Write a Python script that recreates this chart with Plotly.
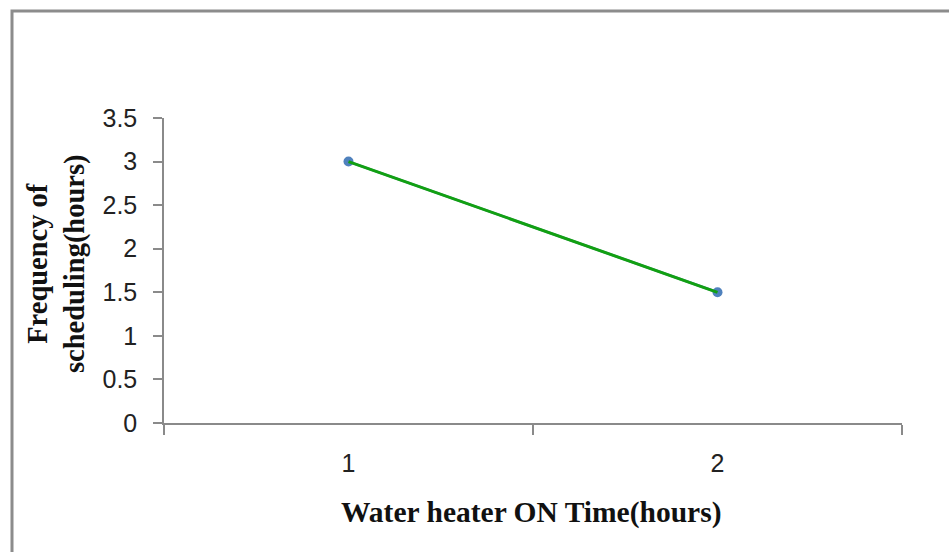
import plotly.graph_objects as go

categories = ["1", "2"]
frequency = [3, 1.5]
trend = [3, 1.5]
y_ticks = [0, 0.5, 1, 1.5, 2, 2.5, 3, 3.5]
y_tick_labels = ["0", "0.5", "1", "1.5", "2", "2.5", "3", "3.5"]

W, H = 949, 552
L, R, T, B = 164, 47, 118, 129
pw, ph = W - L - R, H - T - B

def px(x):
    return (x - L) / pw

def py(y):
    return (H - B - y) / ph

fig = go.Figure()
fig.add_trace(go.Scatter(
    x=categories, y=frequency, mode="lines+markers",
    line=dict(color="#4F81BD", width=2.5),
    marker=dict(color="#4F81BD", size=10),
    showlegend=False,
))
fig.add_trace(go.Scatter(
    x=categories, y=trend, mode="lines",
    line=dict(color="#12A012", width=3),
    showlegend=False,
))

axis_color = "#8A8A8A"
tick_font = dict(family="Liberation Sans Narrow, Liberation Sans", size=25, color="#222")
fig.update_layout(
    width=W, height=H,
    margin=dict(l=L, r=R, t=T, b=B),
    paper_bgcolor="white", plot_bgcolor="white",
    xaxis=dict(
        type="category", range=[-0.5, 1.5],
        showgrid=False, zeroline=False,
        showline=True, linecolor=axis_color, linewidth=1.5,
        ticks="outside", ticklen=10, tickcolor=axis_color, tickwidth=1.5,
        tickson="boundaries",
        tickfont=tick_font,
        ticklabelstandoff=17,
    ),
    yaxis=dict(
        range=[0, 3.5], tickvals=y_ticks, ticktext=y_tick_labels,
        showgrid=False, zeroline=False,
        showline=True, linecolor=axis_color, linewidth=1.5,
        ticks="outside", ticklen=9, tickcolor=axis_color, tickwidth=1.5,
        tickfont=tick_font,
        ticklabelstandoff=11,
    ),
    shapes=[
        dict(type="rect", xref="paper", yref="paper",
             x0=px(12), x1=px(W + 20), y0=py(H + 20), y1=py(11),
             line=dict(color="#8C8C8C", width=3), fillcolor="rgba(0,0,0,0)",
             layer="below"),
    ],
    annotations=[
        dict(text="<b>Water heater ON Time(hours)</b>", xref="paper", yref="paper",
             x=px(531), y=py(512), showarrow=False, xanchor="center", yanchor="middle",
             font=dict(family="Liberation Serif", size=29.5, color="#111")),
        dict(text="<b>Frequency of<br>scheduling(hours)</b>", xref="paper", yref="paper",
             x=px(56), y=py(264), showarrow=False, xanchor="center", yanchor="middle",
             textangle=-90,
             font=dict(family="Liberation Serif", size=28.5, color="#111")),
    ],
)

fig.write_html("out.html")
